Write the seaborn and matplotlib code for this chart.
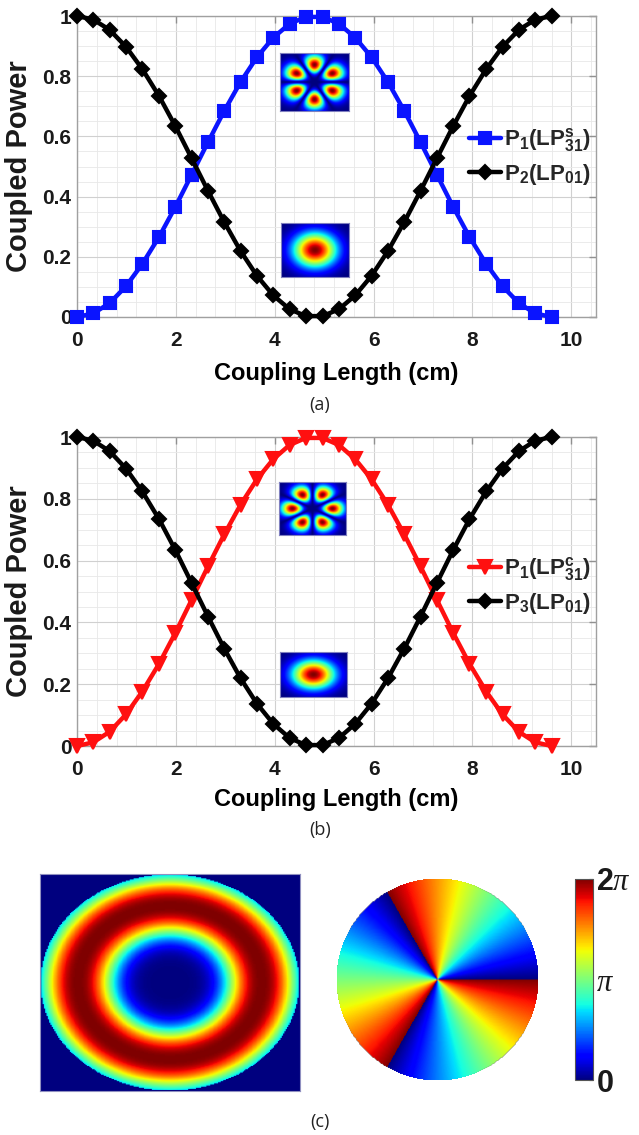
import numpy as np
import pandas as pd
import matplotlib
matplotlib.use('Agg')
import matplotlib.pyplot as plt
from matplotlib.ticker import MultipleLocator
import seaborn as sns

# coupling length along the coupler (cm)
length = [0.00, 0.33, 0.66, 0.99, 1.32, 1.66, 1.99, 2.32, 2.65, 2.98,
          3.31, 3.64, 3.97, 4.30, 4.63, 4.97, 5.30, 5.63, 5.96, 6.29,
          6.62, 6.95, 7.28, 7.61, 7.94, 8.28, 8.61, 8.94, 9.27, 9.60]
# power coupled into LP31 (same for the sin and cos orientation)
p_lp31 = [0.000, 0.012, 0.046, 0.102, 0.176, 0.266, 0.366, 0.473, 0.581, 0.685,
          0.781, 0.863, 0.928, 0.974, 0.997, 0.997, 0.974, 0.928, 0.863, 0.781,
          0.685, 0.581, 0.473, 0.366, 0.266, 0.176, 0.102, 0.046, 0.012, 0.000]
# power left in LP01
p_lp01 = [1.000, 0.988, 0.954, 0.898, 0.824, 0.734, 0.634, 0.527, 0.419, 0.315,
          0.219, 0.137, 0.072, 0.026, 0.003, 0.003, 0.026, 0.072, 0.137, 0.219,
          0.315, 0.419, 0.527, 0.634, 0.734, 0.824, 0.898, 0.954, 0.988, 1.000]

x_ticks = [0, 2, 4, 6, 8, 10]
x_ticklabels = ['0', '2', '4', '6', '8', '10']
y_ticks = [0, 0.2, 0.4, 0.6, 0.8, 1.0]
y_ticklabels = ['0', '0.2', '0.4', '0.6', '0.8', '1']

labels_a = [r'$\mathbf{P_1(LP^{s}_{31})}$', r'$\mathbf{P_2(LP_{01})}$']
labels_b = [r'$\mathbf{P_1(LP^{c}_{31})}$', r'$\mathbf{P_3(LP_{01})}$']

cbar_ticks = [0, np.pi, 2 * np.pi]
cbar_ticklabels = [r'$\mathbf{0}$', r'$\pi$', r'$\mathbf{2}\pi$']

sns.set_theme(style='white')
plt.rcParams['font.family'] = ['Liberation Sans', 'DejaVu Sans']
plt.rcParams['mathtext.fontset'] = 'custom'
plt.rcParams['mathtext.rm'] = 'Liberation Sans'
plt.rcParams['mathtext.bf'] = 'Liberation Sans:bold'
plt.rcParams['mathtext.it'] = 'Liberation Serif:italic'

W, H = 639, 1135
fig = plt.figure(figsize=(W / 100, H / 100), dpi=100)


def box(x0, y0, x1, y1):
    # pixel box (from top-left) -> figure fraction rect
    return [x0 / W, 1 - y1 / H, (x1 - x0) / W, (y1 - y0) / H]


# --- mode pictures for the insets ---
g = np.linspace(-1, 1, 200)
X, Y = np.meshgrid(g, g)
R = np.hypot(X, Y)
T = np.arctan2(Y, X)
rad31 = ((R / 0.6) ** 2 * np.exp(1 - (R / 0.6) ** 2)) ** 2
lp31_s = rad31 * np.abs(np.sin(3 * T)) ** 1.2
lp31_c = rad31 * np.abs(np.cos(3 * T)) ** 1.2
lp01 = np.exp(-(R / 0.62) ** 2)
ring = np.where(R <= 1, np.exp(-np.abs((R - 0.71) / 0.28) ** 2.5), 0)
phase = np.where(R <= 1, np.mod(3 * T, 2 * np.pi), np.nan)


def inset(rect, img):
    a = fig.add_axes(box(*rect))
    a.imshow(img, cmap='jet', origin='lower', aspect='auto')
    a.set_xticks([])
    a.set_yticks([])
    for s in a.spines.values():
        s.set_color('#8080c0')
        s.set_linewidth(0.8)
    return a


def panel(rect, y_mode, color, marker, ms, labels, leg_y, xlab_y):
    ax = fig.add_axes(box(*rect))
    df = pd.DataFrame({'length': length, 'mode': y_mode, 'fund': p_lp01})
    sns.lineplot(data=df, x='length', y='mode', ax=ax, color=color, marker=marker,
                 linewidth=3.2, markersize=ms, markeredgecolor=color,
                 markeredgewidth=1.5, label=labels[0], clip_on=False, zorder=4)
    sns.lineplot(data=df, x='length', y='fund', ax=ax, color='black', marker='D',
                 linewidth=3.2, markersize=7.5, markeredgecolor='black',
                 markeredgewidth=1.5, label=labels[1], clip_on=False, zorder=4)
    ax.set_xlim(0, 10.5)
    ax.set_ylim(0, 1)
    ax.set_xticks(x_ticks)
    ax.set_xticklabels(x_ticklabels)
    ax.set_yticks(y_ticks)
    ax.set_yticklabels(y_ticklabels)
    ax.xaxis.set_minor_locator(MultipleLocator(0.4))
    ax.yaxis.set_minor_locator(MultipleLocator(0.05))
    ax.grid(which='major', color='#d0d0d0', linewidth=0.8)
    ax.grid(which='minor', color='#e8e8e8', linewidth=0.6)
    ax.set_axisbelow(True)
    ax.tick_params(which='both', direction='in', top=True, right=True)
    ax.tick_params(which='major', length=5, width=1, color='#909090',
                   labelsize=15, labelcolor='#1a1a1a')
    ax.tick_params(which='minor', length=0)
    ax.tick_params(axis='x', pad=10)
    ax.tick_params(axis='y', pad=4)
    for lab in ax.get_xticklabels() + ax.get_yticklabels():
        lab.set_fontweight('bold')
    for s in ax.spines.values():
        s.set_color('#a0a0a0')
        s.set_linewidth(1.0)
    ax.set_xlabel('Coupling Length (cm)', fontsize=17, fontweight='bold', color='black')
    ax.set_ylabel('Coupled Power', fontsize=21, fontweight='bold', color='#1a1a1a')
    ax.xaxis.set_label_coords(0.5, xlab_y)
    ax.yaxis.set_label_coords(-0.085, 0.5)
    ax.legend(loc='center left', bbox_to_anchor=(0.755, leg_y), frameon=False,
              fontsize=16, handlelength=1.45, handletextpad=0.15, labelspacing=0.35,
              borderaxespad=0, borderpad=0)
    return ax


# (a)
panel((77, 16, 596, 317), p_lp31, '#0a14ff', 's', 8.5, labels_a, 0.533, -0.15)
inset((280, 53, 349, 111), lp31_s)
inset((281, 223, 349, 277), lp01)
fig.text(320 / W, 1 - 405 / H, '(a)', ha='center', va='center', fontsize=13,
         family='Open Sans', color='#222222')

# (b)
panel((77, 437, 596, 746), p_lp31, '#ff1010', 'v', 10, labels_b, 0.52, -0.135)
inset((279, 482, 346, 535), lp31_c)
inset((280, 652, 347, 697), lp01)
fig.text(320 / W, 1 - 830 / H, '(b)', ha='center', va='center', fontsize=13,
         family='Open Sans', color='#222222')

# (c)
axl = fig.add_axes(box(40, 874, 300, 1091))
axl.imshow(ring, cmap='jet', origin='lower', aspect='auto', vmin=0, vmax=1)
axl.set_xticks([])
axl.set_yticks([])
for s in axl.spines.values():
    s.set_color('#9090c0')
    s.set_linewidth(0.8)

axr = fig.add_axes(box(336, 878, 539, 1081))
im = axr.imshow(phase, cmap='jet', origin='lower', aspect='auto', vmin=0, vmax=2 * np.pi)
axr.axis('off')

cax = fig.add_axes(box(575, 879, 593, 1080))
cb = fig.colorbar(im, cax=cax, ticks=cbar_ticks)
cb.ax.set_yticklabels(cbar_ticklabels)
cb.ax.tick_params(labelsize=22, length=3, width=0.8, direction='in', pad=2,
                  labelcolor='#1a1a1a')
cb.outline.set_linewidth(0.8)
cb.outline.set_edgecolor('#555555')

fig.text(320 / W, 1 - 1122 / H, '(c)', ha='center', va='center', fontsize=13,
         family='Open Sans', color='#222222')

fig.savefig('out.png', dpi=100)
